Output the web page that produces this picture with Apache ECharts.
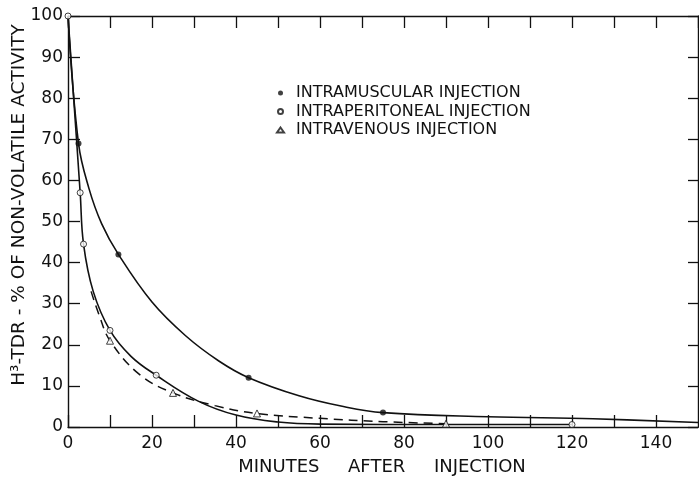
<!DOCTYPE html>
<html>
<head>
<meta charset="utf-8">
<script src="https://cdn.jsdelivr.net/npm/echarts@6/dist/echarts.min.js"></script>
<style>
html,body{margin:0;padding:0;background:#fff;}
#c{width:699px;height:481px;}
</style>
</head>
<body>
<div id="c"></div>
<script>
// ---- data ----
const xTickLabels = [0, 20, 40, 60, 80, 100, 120, 140];
const yTickLabels = [0, 10, 20, 30, 40, 50, 60, 70, 80, 90, 100];

const seriesNames = ['INTRAMUSCULAR INJECTION', 'INTRAPERITONEAL INJECTION', 'INTRAVENOUS INJECTION'];

// measured points (markers)
const imPoints = [[2.5, 69], [12, 42], [43, 12], [75, 3.5]];
const ipPoints = [[0, 100], [2.9, 57], [3.7, 44.5], [10, 23.5], [21, 12.6], [120, 0.6]];
const ivPoints = [[10, 21], [25, 8.3], [45, 3.3], [90, 0.8]];

// fitted curves
const imCurve = [[0, 100], [2.5, 69], [5, 58], [8, 49.5], [12, 42], [20, 30.4],
  [28, 22.2], [36, 16], [43, 12], [55, 7.6], [65, 5.1], [75, 3.5],
  [100, 2.5], [125, 2.0], [150, 1.1]];
const ipCurve = [[0, 100], [2.9, 57], [3.7, 44.5], [6, 33], [10, 23.5], [15, 17.2],
  [21, 12.6], [31, 6.3], [40, 2.9], [50, 1.2], [60, 0.7], [90, 0.6], [120, 0.6]];
const ivCurve = [[5.5, 33], [7.5, 27], [10, 21], [17, 12.8], [25, 8.3], [35, 5.2],
  [45, 3.3], [60, 2.1], [75, 1.3], [90, 0.8]];

const ink = '#111';
const chart = echarts.init(document.getElementById('c'));

const axisCommon = {
  type: 'value', min: 0,
  axisLine: { show: true, onZero: false, lineStyle: { color: ink, width: 1.4 } },
  splitLine: { show: false }
};

chart.setOption({
  backgroundColor: '#fff',
  animation: false,
  grid: { left: 68, top: 16, right: 1, bottom: 54 },
  xAxis: [
    Object.assign({}, axisCommon, {
      position: 'bottom', max: 150, interval: 10,
      axisTick: { inside: true, length: 12, lineStyle: { color: ink, width: 1.3 } },
      axisLabel: {
        margin: 8, color: ink, fontFamily: 'DejaVu Sans', fontSize: 17, showMaxLabel: false,
        formatter: v => xTickLabels.indexOf(v) >= 0 ? String(v) : ''
      }
    }),
    Object.assign({}, axisCommon, {
      position: 'top', max: 150, interval: 10,
      axisTick: { inside: true, length: 12, lineStyle: { color: ink, width: 1.3 } },
      axisLabel: { show: false }
    })
  ],
  yAxis: [
    Object.assign({}, axisCommon, {
      position: 'left', max: 100, interval: 10,
      axisTick: { inside: true, length: 12, lineStyle: { color: ink, width: 1.3 } },
      axisLabel: {
        margin: 5, color: ink, fontFamily: 'DejaVu Sans', fontSize: 17,
        formatter: v => yTickLabels.indexOf(v) >= 0 ? String(v) : ''
      }
    }),
    Object.assign({}, axisCommon, {
      position: 'right', max: 100, interval: 10,
      axisTick: { inside: true, length: 10, lineStyle: { color: ink, width: 1.3 } },
      axisLabel: { show: false }
    })
  ],
  legend: {
    data: seriesNames,
    orient: 'vertical', left: 271, top: 80,
    itemWidth: 7, itemHeight: 5, itemGap: 2.5,
    textStyle: { color: ink, fontFamily: 'DejaVu Sans', fontSize: 16, padding: [0, 0, 0, 7] }
  },
  graphic: [
    {
      type: 'text', x: 19, y: 205, rotation: Math.PI / 2,
      style: {
        text: 'H\u00B3-TDR - % OF NON-VOLATILE ACTIVITY', fill: ink,
        font: '18.5px "DejaVu Sans"', textAlign: 'center', textVerticalAlign: 'middle'
      }
    },
    {
      type: 'text', x: 382, y: 467,
      style: {
        text: 'MINUTES     AFTER     INJECTION', fill: ink,
        font: '18px "DejaVu Sans"', textAlign: 'center', textVerticalAlign: 'middle'
      }
    }
  ],
  series: [
    { type: 'line', data: imCurve, smooth: 0.4, showSymbol: false, silent: true,
      lineStyle: { color: ink, width: 1.6 }, z: 2 },
    { type: 'line', data: ipCurve, smooth: 0.4, showSymbol: false, silent: true,
      lineStyle: { color: ink, width: 1.6 }, z: 2 },
    { type: 'line', data: ivCurve, smooth: 0.4, showSymbol: false, silent: true,
      lineStyle: { color: ink, width: 1.5, type: [9, 6] }, z: 2 },
    { name: seriesNames[0], type: 'scatter', data: imPoints, symbol: 'circle', symbolSize: 6,
      itemStyle: { color: ink }, z: 5 },
    { name: seriesNames[1], type: 'scatter', data: ipPoints, symbol: 'circle', symbolSize: 6,
      itemStyle: { color: '#fff', borderColor: ink, borderWidth: 1 }, z: 5 },
    { name: seriesNames[2], type: 'scatter', data: ivPoints, symbol: 'triangle', symbolSize: 7,
      itemStyle: { color: '#fff', borderColor: ink, borderWidth: 1 }, z: 5 }
  ]
});
</script>
</body>
</html>
